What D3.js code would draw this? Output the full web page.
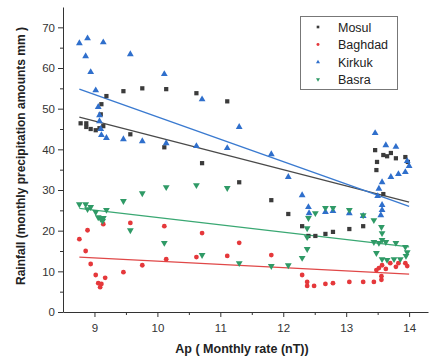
<!DOCTYPE html>
<html>
<head>
<meta charset="utf-8">
<script src="https://cdn.jsdelivr.net/npm/d3@7"></script>
<style>
  body { margin: 0; background: #fff; }
  svg { display: block; font-family: "Liberation Sans", Arial, sans-serif; }
</style>
</head>
<body>
<svg id="chart" width="436" height="360"></svg>
<script>
// values, [Ap, rainfall]
var mosul = [
  [9.19, 53.1], [9.46, 54.3], [9.76, 55.0], [10.14, 54.8], [10.62, 53.8], [11.11, 51.8],
  [9.11, 51.1], [9.10, 48.6], [8.78, 46.4], [8.87, 46.4], [8.87, 45.5], [8.94, 45.0],
  [9.02, 44.7], [9.08, 45.2], [9.14, 45.7], [9.57, 43.7], [10.11, 40.5], [10.71, 36.6],
  [11.30, 31.9], [11.81, 27.5], [12.08, 24.1], [12.30, 21.1], [12.40, 18.7], [12.51, 18.7],
  [12.67, 19.2], [12.79, 19.7], [13.05, 20.4], [13.27, 21.1], [13.46, 39.8], [13.49, 36.9],
  [13.48, 34.9], [13.59, 38.6], [13.65, 38.3], [13.71, 39.1], [13.79, 37.8], [13.94, 38.1],
  [13.98, 36.9], [13.59, 29.0]
];
var baghdad = [
  [8.76, 17.9], [8.89, 20.1], [8.86, 15.0], [8.94, 11.8], [9.02, 9.1], [9.06, 7.1],
  [9.11, 6.9], [9.09, 6.1], [9.17, 8.4], [9.14, 21.6], [9.46, 9.8], [9.57, 21.9],
  [9.76, 11.5], [10.11, 21.1], [10.14, 13.0], [10.62, 13.5], [10.71, 19.4], [11.11, 13.8],
  [11.30, 17.0], [11.81, 14.0], [12.30, 9.1], [12.38, 7.4], [12.38, 6.4], [12.49, 6.4],
  [12.67, 6.9], [12.79, 7.1], [13.05, 7.4], [13.27, 7.4], [13.44, 7.4], [13.56, 7.9],
  [13.56, 8.8], [13.48, 10.3], [13.52, 10.8], [13.57, 11.5], [13.63, 10.6], [13.70, 12.0],
  [13.79, 11.1], [13.83, 12.0], [13.94, 12.0], [13.97, 11.3]
];
var kirkuk = [
  [8.76, 66.1], [8.89, 67.3], [9.14, 66.3], [8.86, 62.9], [8.94, 59.0], [9.57, 63.4],
  [10.11, 58.5], [9.02, 54.5], [10.71, 52.3], [11.30, 45.5], [9.06, 50.4], [9.08, 48.4],
  [9.08, 46.9], [9.10, 45.0], [9.11, 43.5], [9.19, 42.8], [9.46, 42.5], [9.76, 42.0],
  [10.14, 41.5], [10.62, 40.8], [11.11, 40.3], [11.81, 38.8], [12.08, 33.2],
  [12.30, 28.7], [12.40, 25.8], [12.41, 24.3], [12.67, 24.6], [12.79, 24.8], [13.05, 24.3],
  [13.27, 23.6], [13.46, 44.0], [13.63, 41.0], [13.79, 40.6], [13.52, 30.3], [13.50, 28.5],
  [13.57, 26.3], [13.57, 25.1], [13.55, 23.8], [13.57, 31.9], [13.71, 33.2], [13.83, 33.9],
  [13.94, 34.4], [14.0, 35.9], [13.97, 37.1]
];
var basra = [
  [8.76, 26.5], [8.86, 26.5], [8.89, 25.3], [8.94, 25.8], [9.02, 24.6], [9.06, 23.3],
  [9.10, 22.9], [9.13, 22.4], [9.14, 23.1], [9.19, 25.1], [9.46, 27.3], [9.76, 29.2],
  [10.14, 30.7], [10.62, 31.2], [11.11, 30.5], [9.57, 20.1], [10.11, 17.0], [10.71, 14.0],
  [11.30, 12.0], [11.81, 11.3], [12.08, 11.5], [12.30, 13.3], [12.38, 15.5], [12.38, 18.4],
  [12.38, 20.6], [12.40, 23.1], [12.51, 24.3], [12.67, 25.6], [12.79, 25.6], [13.05, 25.1],
  [13.27, 23.8], [13.44, 22.6], [13.56, 20.9], [13.57, 19.4], [13.57, 17.7], [13.48, 14.5],
  [13.57, 13.0], [13.65, 12.8], [13.76, 13.0], [13.86, 13.0], [13.95, 13.8], [13.97, 14.7],
  [13.94, 16.0], [13.79, 17.0], [13.63, 17.2], [13.52, 17.0], [13.44, 17.2]
];

// linear fit lines, values at both ends
var fitX = [8.76, 14.0];
var fitMosul = [47.9, 27.0];
var fitBaghdad = [13.5, 9.3];
var fitKirkuk = [54.8, 26.0];
var fitBasra = [25.5, 16.0];

var xTicks = [9, 10, 11, 12, 13, 14];
var yTicks = [0, 10, 20, 30, 40, 50, 60, 70];
var names = ["Mosul", "Baghdad", "Kirkuk", "Basra"];

var svg = d3.select("#chart");
var x = d3.scaleLinear().domain([8.5, 14.3]).range([63, 428]);
var y = d3.scaleLinear().domain([0, 75]).range([312, 7]);

var series = [
  { name: names[0], pts: mosul, fit: fitMosul, color: "#3b3b3b", line: "#4a4a4a", shape: d3.symbolSquare, size: 18, rot: 0 },
  { name: names[1], pts: baghdad, fit: fitBaghdad, color: "#e5383b", line: "#e04848", shape: d3.symbolCircle, size: 18, rot: 0 },
  { name: names[2], pts: kirkuk, fit: fitKirkuk, color: "#2f6fcc", line: "#3a7ad0", shape: d3.symbolTriangle, size: 20, rot: 0 },
  { name: names[3], pts: basra, fit: fitBasra, color: "#2f9a66", line: "#3aa873", shape: d3.symbolTriangle, size: 20, rot: 180 }
];

// axes
var xAxis = svg.append("g").attr("transform", "translate(0,312)")
  .call(d3.axisBottom(x).tickValues(xTicks).tickFormat(d3.format("d")).tickSize(5).tickSizeOuter(0));
svg.append("g").attr("transform", "translate(0,312)")
  .call(d3.axisBottom(x).tickValues([9.5, 10.5, 11.5, 12.5, 13.5]).tickFormat("").tickSize(3).tickSizeOuter(0))
  .select(".domain").remove();
var yAxis = svg.append("g").attr("transform", "translate(63,0)")
  .call(d3.axisLeft(y).tickValues(yTicks).tickSize(5).tickSizeOuter(0));
svg.append("g").attr("transform", "translate(63,0)")
  .call(d3.axisLeft(y).tickValues([5, 15, 25, 35, 45, 55, 65]).tickFormat("").tickSize(3).tickSizeOuter(0))
  .select(".domain").remove();

svg.selectAll(".domain, .tick line").attr("stroke", "#333");
svg.selectAll(".tick text").attr("fill", "#333").style("font-size", "11.5px");
xAxis.selectAll(".tick text").attr("dy", "1em");

// fit lines
series.forEach(function (s) {
  svg.append("line")
    .attr("x1", x(fitX[0])).attr("y1", y(s.fit[0]))
    .attr("x2", x(fitX[1])).attr("y2", y(s.fit[1]))
    .attr("stroke", s.line).attr("stroke-width", 1.3);
});

// points
series.forEach(function (s) {
  var sym = d3.symbol().type(s.shape).size(s.size);
  svg.append("g").selectAll("path")
    .data(s.pts)
    .enter()
    .append("path")
    .attr("d", sym)
    .attr("transform", function (d) {
      return "translate(" + x(d[0]) + "," + y(d[1]) + ") rotate(" + s.rot + ")";
    })
    .attr("fill", s.color);
});

// legend
var lg = svg.append("g");
lg.append("rect").attr("x", 300.5).attr("y", 16.5).attr("width", 97).attr("height", 73)
  .attr("fill", "#fff").attr("stroke", "#777");
series.forEach(function (s, i) {
  var cy = 27 + i * 17.5;
  lg.append("path")
    .attr("d", d3.symbol().type(s.shape).size(7))
    .attr("transform", "translate(318," + cy + ") rotate(" + s.rot + ")")
    .attr("fill", s.color);
  lg.append("text").attr("x", 338).attr("y", cy + 4.5)
    .attr("fill", "#222").style("font-size", "12.5px").text(s.name);
});

// axis titles
svg.append("text")
  .attr("x", 242).attr("y", 353)
  .attr("text-anchor", "middle")
  .style("font-size", "12.5px").style("font-weight", "bold").attr("fill", "#222")
  .text("Ap ( Monthly rate (nT))");
svg.append("text")
  .attr("transform", "translate(25,156) rotate(-90)")
  .attr("text-anchor", "middle")
  .style("font-size", "12px").style("font-weight", "bold").attr("fill", "#222")
  .text("Rainfall (monthly precipitation amounts mm )");
</script>
</body>
</html>
